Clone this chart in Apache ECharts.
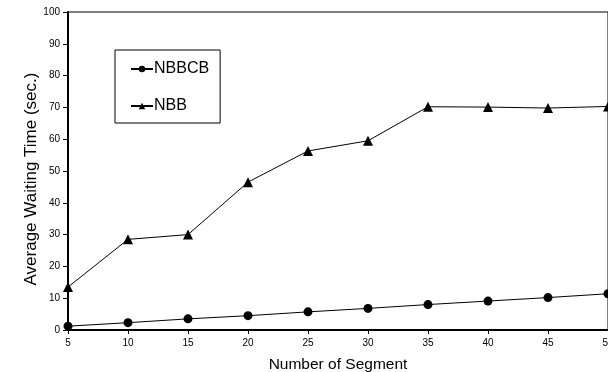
<!DOCTYPE html>
<html><head><meta charset="utf-8">
<script src="https://cdn.jsdelivr.net/npm/echarts@6/dist/echarts.min.js"></script>
<style>html,body{margin:0;padding:0;background:#fff}#c{width:608px;height:372px}</style>
</head><body><div id="c"></div>
<script>
var segments = [5, 10, 15, 20, 25, 30, 35, 40, 45, 50];
var nbbcb = [1.2, 2.3, 3.5, 4.5, 5.7, 6.8, 8.0, 9.1, 10.2, 11.4];
var nbb = [13.5, 28.5, 30.0, 46.5, 56.3, 59.5, 70.2, 70.1, 69.8, 70.3];
var seriesNames = ['NBBCB', 'NBB'];

function pairs(xs, ys) { return xs.map(function (x, i) { return [x, ys[i]]; }); }

var chart = echarts.init(document.getElementById('c'), null, {renderer: 'canvas'});
chart.setOption({
  animation: false,
  backgroundColor: '#fff',
  grid: {left: 68, right: 0, top: 12, bottom: 42, show: true, borderColor: '#000', borderWidth: 1,
         containLabel: false, outerBoundsMode: 'none'},
  legend: {
    orient: 'vertical', left: 115, top: 50,
    padding: [11, 11, 9, 15], itemGap: 21, itemWidth: 22, itemHeight: 8,
    borderColor: '#000', borderWidth: 1,
    textStyle: {fontFamily: 'Liberation Sans, Arial', fontSize: 16, color: '#000', padding: [0,0,0,-4]},
    data: seriesNames
  },
  xAxis: {
    type: 'value', min: 5, max: 50, interval: 5,
    name: 'Number of Segment', nameLocation: 'middle', nameGap: 27,
    nameTextStyle: {fontFamily: 'Liberation Sans, Arial', fontSize: 15.5, color: '#000'},
    axisLine: {lineStyle: {color: '#000', width: 2}},
    axisTick: {show: true, length: 4, lineStyle: {color: '#000'}},
    axisLabel: {fontFamily: 'Liberation Sans, Arial', fontSize: 10, color: '#000', margin: 8},
    splitLine: {show: false}
  },
  yAxis: {
    type: 'value', min: 0, max: 100, interval: 10,
    name: 'Average Waiting Time (sec.)', nameLocation: 'middle', nameGap: 28, nameMoveOverlap: false,
    nameTextStyle: {fontFamily: 'Liberation Sans, Arial', fontSize: 17, color: '#000', padding: [0, 16, 0, 0]},
    axisLine: {show: true, lineStyle: {color: '#000', width: 2}},
    axisTick: {show: true, length: 5, lineStyle: {color: '#000'}},
    axisLabel: {fontFamily: 'Liberation Sans, Arial', fontSize: 10, color: '#000', margin: 8},
    splitLine: {show: false}
  },
  series: [
    {name: seriesNames[0], type: 'line', data: pairs(segments, nbbcb), symbol: 'circle', symbolSize: 9,
     itemStyle: {color: '#000'}, lineStyle: {color: '#000', width: 1}},
    {name: seriesNames[1], type: 'line', data: pairs(segments, nbb), symbol: 'triangle', symbolSize: 10,
     itemStyle: {color: '#000'}, lineStyle: {color: '#000', width: 1}}
  ]
});
</script></body></html>
